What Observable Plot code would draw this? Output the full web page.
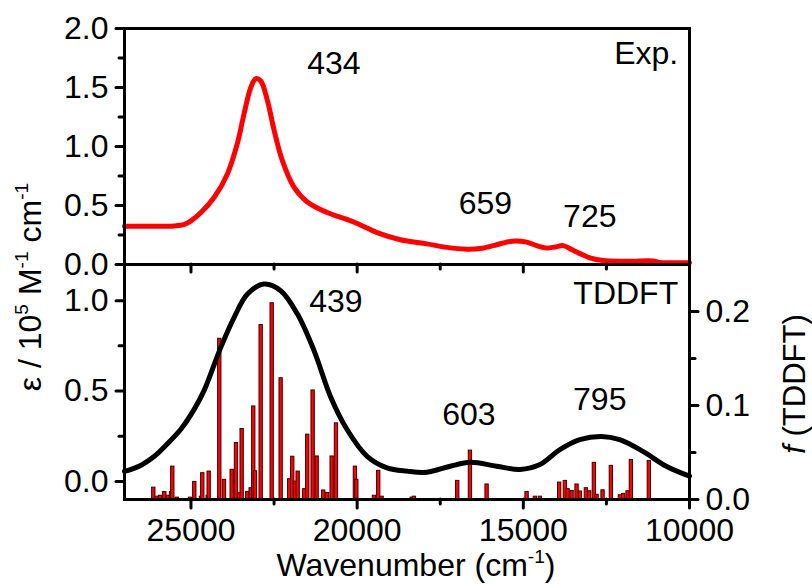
<!DOCTYPE html>
<html>
<head>
<meta charset="utf-8">
<script src="https://cdn.jsdelivr.net/npm/d3@7"></script>
<script src="https://cdn.jsdelivr.net/npm/@observablehq/plot@0.6"></script>
<style>
  html, body { margin: 0; padding: 0; background: #ffffff; }
  #wrap { position: relative; width: 812px; height: 584px; overflow: hidden; background: #ffffff;
          font-family: "Liberation Sans", Arial, sans-serif; color: #000; }
  #wrap svg { position: absolute; left: 0; top: 0; }
  .title { position: absolute; white-space: nowrap; font-size: 32px; line-height: 1.1; }
  .title sup { font-size: 0.6em; position: relative; top: -0.05em; vertical-align: super; line-height: 0; }
  .rot { transform: translate(-50%, -50%) rotate(-90deg); }
  .hor { transform: translate(-50%, -50%); }
</style>
</head>
<body>
<div id="wrap"></div>
<script>
// ---------- data ----------
// Experimental spectrum (top panel), epsilon in 10^5 M^-1 cm^-1
const expWavenumber = [27000, 26500, 26000, 25500, 25200, 25000, 24700, 24300, 23900, 23600, 23400, 23200, 23050, 22900, 22700, 22500, 22250, 21900, 21500, 20900, 20100, 19400, 18700, 17900, 17300, 16700, 16300, 15900, 15500, 15240, 14900, 14600, 14300, 14050, 13800, 13500, 13200, 13000, 12600, 12000, 11700, 11100, 10900, 10500, 10000];
const expEpsilon    = [0.325, 0.325, 0.325, 0.327, 0.34, 0.37, 0.44, 0.57, 0.77, 1.03, 1.28, 1.50, 1.575, 1.555, 1.39, 1.14, 0.88, 0.655, 0.53, 0.44, 0.36, 0.27, 0.21, 0.175, 0.145, 0.13, 0.135, 0.16, 0.19, 0.20, 0.19, 0.16, 0.14, 0.148, 0.16, 0.12, 0.08, 0.057, 0.034, 0.028, 0.028, 0.03, 0.017, 0.015, 0.015];

// TDDFT broadened spectrum (bottom panel), epsilon in 10^5 M^-1 cm^-1
const calcWavenumber = [27000, 26500, 26100, 25700, 25300, 24900, 24600, 24100, 23700, 23300, 22800, 22300, 21800, 21300, 20800, 20300, 19700, 19100, 18500, 17900, 17200, 16600, 15800, 15100, 14500, 13900, 13300, 12650, 12100, 11400, 10700, 10000];
const calcEpsilon    = [0.055, 0.09, 0.139, 0.21, 0.29, 0.40, 0.505, 0.743, 0.908, 1.037, 1.092, 1.055, 0.927, 0.725, 0.469, 0.286, 0.139, 0.075, 0.057, 0.051, 0.084, 0.106, 0.084, 0.066, 0.093, 0.176, 0.231, 0.249, 0.231, 0.166, 0.084, 0.029];

// TDDFT oscillator strengths (sticks)
const stickWavenumber = [26119, 26016, 25917, 25788, 25686, 25586, 25547, 25415, 25015, 24885, 24684, 24645, 24482, 24452, 24133, 23992, 23760, 23631, 23541, 23460, 23291, 23189, 23111, 23060, 22888, 22557, 22287, 22028, 21938, 21856, 21775, 21577, 21486, 21324, 21204, 21005, 20885, 20752, 20623, 20052, 20010, 19480, 19351, 19249, 18346, 18277, 16974, 16592, 16090, 14887, 14637, 14487, 13906, 13735, 13654, 13533, 13383, 13283, 13103, 13003, 12862, 12781, 12601, 12351, 12080, 11981, 11849, 11749, 11208];
const stickF          = [0.0126, 0.003, 0.004, 0.008, 0.004, 0.008, 0.035, 0.002, 0.002, 0.0187, 0.003, 0.028, 0.004, 0.0297, 0.171, 0.0209, 0.0316, 0.060, 0.007, 0.075, 0.008, 0.012, 0.099, 0.030, 0.1856, 0.2088, 0.129, 0.0216, 0.0455, 0.019, 0.0297, 0.011, 0.069, 0.116, 0.0458, 0.0096, 0.007, 0.0458, 0.081, 0.035, 0.021, 0.004, 0.0305, 0.003, 0.002, 0.003, 0.0198, 0.052, 0.016, 0.008, 0.003, 0.003, 0.018, 0.0198, 0.011, 0.009, 0.016, 0.0085, 0.012, 0.0088, 0.039, 0.005, 0.0098, 0.0358, 0.0045, 0.006, 0.0088, 0.042, 0.041];

// Tick values
const xTicksMajor = [25000, 20000, 15000, 10000];
const xTicksMinor = [22500, 17500, 12500];
const topYTicksMajor = [0, 0.5, 1.0, 1.5, 2.0];
const topYTicksMinor = [0.25, 0.75, 1.25, 1.75];
const botYTicksMajor = [0, 0.5, 1.0];
const botYTicksMinor = [0.25, 0.75];
const fTicksMajor = [0, 0.1, 0.2];
const fTicksMinor = [0.05, 0.15];

// Annotations
const topLabelText = ["434", "659", "725"];
const topLabelX    = [20700, 16140, 13000];
const topLabelY    = [1.70, 0.513, 0.407];
const botLabelText = ["439", "603", "795"];
const botLabelX    = [20640, 16640, 12700];
const botLabelY    = [0.992, 0.370, 0.453];
const topTag = "Exp.";
const botTag = "TDDFT";

// ---------- build ----------
const FONT = '"Liberation Sans", Arial, sans-serif';
const W = 812, H = 584;
const fToE = f => -0.1 + f * 5.2;   // right axis (f) mapped onto left axis (epsilon)
const eToF = e => (e + 0.1) / 5.2;

const expData = expWavenumber.map((w, i) => ({w, e: expEpsilon[i]}));
const calcData = calcWavenumber.map((w, i) => ({w, e: calcEpsilon[i]}));
const stickData = stickWavenumber.map((w, i) => ({w, f: stickF[i]}));
const topLabels = topLabelText.map((t, i) => ({t, w: topLabelX[i], e: topLabelY[i]}));
const botLabels = botLabelText.map((t, i) => ({t, w: botLabelX[i], e: botLabelY[i]}));

const common = {
  width: W, height: H,
  marginLeft: 124, marginRight: 123,
  x: {domain: [27000, 10000]},
  style: {background: "none", fontFamily: FONT, fontSize: "32px", color: "black"}
};
const tickStyle = {stroke: "black", strokeWidth: 3, strokeLinecap: "round", label: null, fontSize: 32, fontFamily: FONT};

const topPlot = Plot.plot({
  ...common,
  marginTop: 28, marginBottom: H - 264,
  y: {domain: [0, 2]},
  marks: [
    Plot.line(expData, {x: "w", y: "e", stroke: "#ff0000", strokeWidth: 5, curve: "catmull-rom"}),
    Plot.axisY({...tickStyle, anchor: "left", ticks: topYTicksMajor, tickSize: 8, tickPadding: 8, tickFormat: d => d.toFixed(1)}),
    Plot.axisY({...tickStyle, anchor: "left", ticks: topYTicksMinor, tickSize: 5, tickFormat: () => ""}),
    Plot.axisX({...tickStyle, anchor: "bottom", ticks: xTicksMajor, tickSize: 8, tickFormat: () => ""}),
    Plot.axisX({...tickStyle, anchor: "bottom", ticks: xTicksMinor, tickSize: 5, tickFormat: () => ""}),
    Plot.text(topLabels, {x: "w", y: "e", text: "t", fontSize: 32, fontFamily: FONT, fill: "black"}),
    Plot.text([topTag], {x: 10340, y: 1.784, text: d => d, textAnchor: "end", fontSize: 32, fontFamily: FONT, fill: "black"}),
    Plot.frame({stroke: "black", strokeWidth: 3})
  ]
});

const botPlot = Plot.plot({
  ...common,
  marginTop: 264, marginBottom: H - 499,
  y: {domain: [-0.1, 1.2]},
  marks: [
    Plot.rect(stickData, {x1: d => d.w + 50, x2: d => d.w - 50, y1: fToE(0), y2: d => fToE(d.f),
      fill: "#ff0000", stroke: "#3a0000", strokeWidth: 1}),
    Plot.line(calcData, {x: "w", y: "e", stroke: "black", strokeWidth: 5, curve: "catmull-rom"}),
    Plot.axisY({...tickStyle, anchor: "left", ticks: botYTicksMajor, tickSize: 8, tickPadding: 8, tickFormat: d => d.toFixed(1)}),
    Plot.axisY({...tickStyle, anchor: "left", ticks: botYTicksMinor, tickSize: 5, tickFormat: () => ""}),
    Plot.axisY({...tickStyle, anchor: "right", ticks: fTicksMajor.map(fToE), tickSize: 8, tickPadding: 8, tickFormat: d => eToF(d).toFixed(1)}),
    Plot.axisY({...tickStyle, anchor: "right", ticks: fTicksMinor.map(fToE), tickSize: 5, tickFormat: () => ""}),
    Plot.axisX({...tickStyle, anchor: "bottom", ticks: xTicksMajor, tickSize: 9, tickPadding: 10, tickFormat: d => String(d)}),
    Plot.axisX({...tickStyle, anchor: "bottom", ticks: xTicksMinor, tickSize: 5, tickFormat: () => ""}),
    Plot.text(botLabels, {x: "w", y: "e", text: "t", fontSize: 32, fontFamily: FONT, fill: "black"}),
    Plot.text([botTag], {x: 10340, y: 1.037, text: d => d, textAnchor: "end", fontSize: 32, fontFamily: FONT, fill: "black"}),
    Plot.frame({stroke: "black", strokeWidth: 3})
  ]
});

const wrap = document.getElementById("wrap");
wrap.appendChild(topPlot);
wrap.appendChild(botPlot);

function addTitle(html, cls, x, y, size) {
  const d = document.createElement("div");
  d.className = "title " + cls;
  d.style.left = x + "px";
  d.style.top = y + "px";
  if (size) d.style.fontSize = size + "px";
  d.innerHTML = html;
  wrap.appendChild(d);
}
addTitle("ε / 10<sup>5</sup> M<sup>-1</sup> cm<sup>-1</sup>", "rot", 31, 287);
addTitle("<i>f</i> (TDDFT)", "rot", 795, 384, 31);
addTitle("Wavenumber (cm<sup>-1</sup>)", "hor", 416, 566);
</script>
</body>
</html>
